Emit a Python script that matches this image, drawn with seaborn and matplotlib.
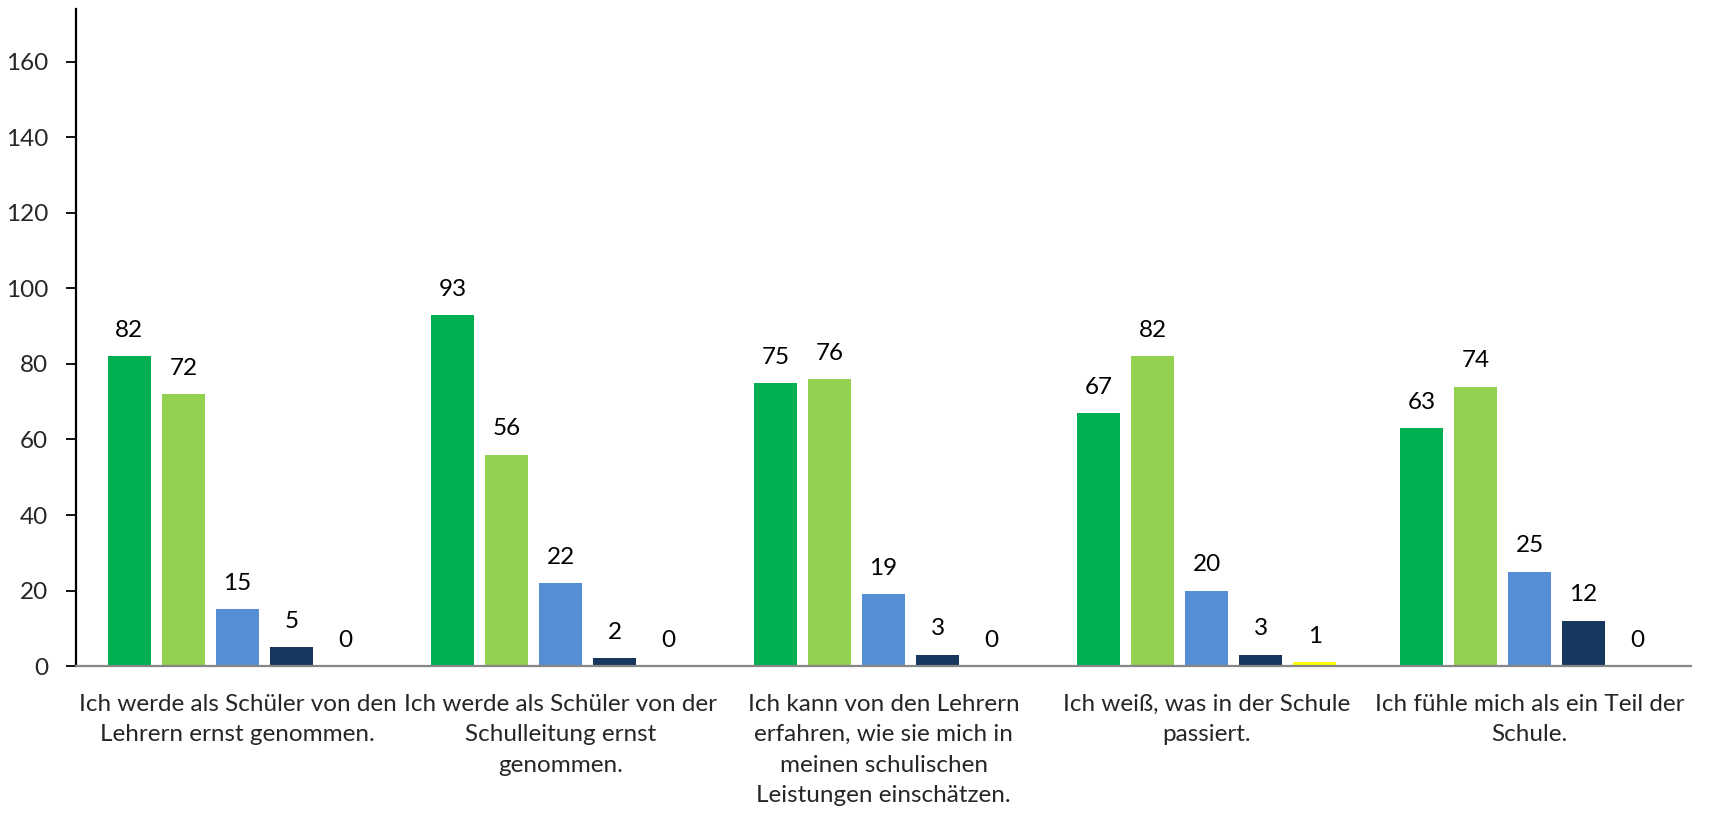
import matplotlib
matplotlib.use("Agg")
import matplotlib.pyplot as plt
import pandas as pd
import seaborn as sns

categories = [
    "Ich werde als Schüler von den\nLehrern ernst genommen.",
    "Ich werde als Schüler von der\nSchulleitung ernst\ngenommen.",
    "Ich kann von den Lehrern\nerfahren, wie sie mich in\nmeinen schulischen\nLeistungen einschätzen.",
    "Ich weiß, was in der Schule\npassiert.",
    "Ich fühle mich als ein Teil der\nSchule.",
]
series_names = ["trifft völlig zu", "trifft eher zu", "trifft eher nicht zu",
                "trifft gar nicht zu", "keine Angabe"]
trifft_voellig = [82, 93, 75, 67, 63]
trifft_eher = [72, 56, 76, 82, 74]
eher_nicht = [15, 22, 19, 20, 25]
gar_nicht = [5, 2, 3, 3, 12]
keine_angabe = [0, 0, 0, 1, 0]
colors = ["#00B050", "#92D050", "#558ED5", "#17375E", "#FFFF00"]

all_values = [trifft_voellig, trifft_eher, eher_nicht, gar_nicht, keine_angabe]
rows = []
for name, vals in zip(series_names, all_values):
    for cat, v in zip(categories, vals):
        rows.append({"Aussage": cat, "Antwort": name, "Anzahl": v})
df = pd.DataFrame(rows)

sns.set_style("white")
plt.rcParams["font.family"] = ["Lato", "DejaVu Sans"]

fig = plt.figure(figsize=(17.13, 8.14), dpi=100)
ax = fig.add_axes([0.0444, 0.1818, 0.9428, 0.807])

sns.barplot(data=df, x="Aussage", y="Anzahl", hue="Antwort", order=categories,
            hue_order=series_names, palette=colors, width=0.837, dodge=True,
            saturation=1, legend=False, ax=ax)

# narrow the bars so there is a small gap between them
for patch in ax.patches:
    cx = patch.get_x() + patch.get_width() / 2
    w = 0.1336
    patch.set_x(cx - w / 2)
    patch.set_width(w)
    patch.set_edgecolor("none")

for cont in ax.containers:
    ax.bar_label(cont, labels=[f"{int(v)}" for v in cont.datavalues],
                 padding=11, fontsize=17.5, color="black")

ax.set_ylim(0, 174)
ax.set_xlim(-0.5, 4.5)
ax.set_yticks(range(0, 161, 20))
ax.set_xlabel("")
ax.set_ylabel("")
ax.tick_params(axis="y", which="major", direction="out", length=7, width=1.3,
               color="black", labelsize=17.5, pad=13, left=True)
ax.tick_params(axis="x", length=0, labelsize=17.5, pad=20)
for lab in ax.get_xticklabels():
    lab.set_linespacing(1.56)

sns.despine(ax=ax, top=True, right=True)
ax.spines["left"].set_color("black")
ax.spines["left"].set_linewidth(1.6)
ax.spines["bottom"].set_color("#868686")
ax.spines["bottom"].set_linewidth(1.6)

fig.savefig("out.png", dpi=100)
